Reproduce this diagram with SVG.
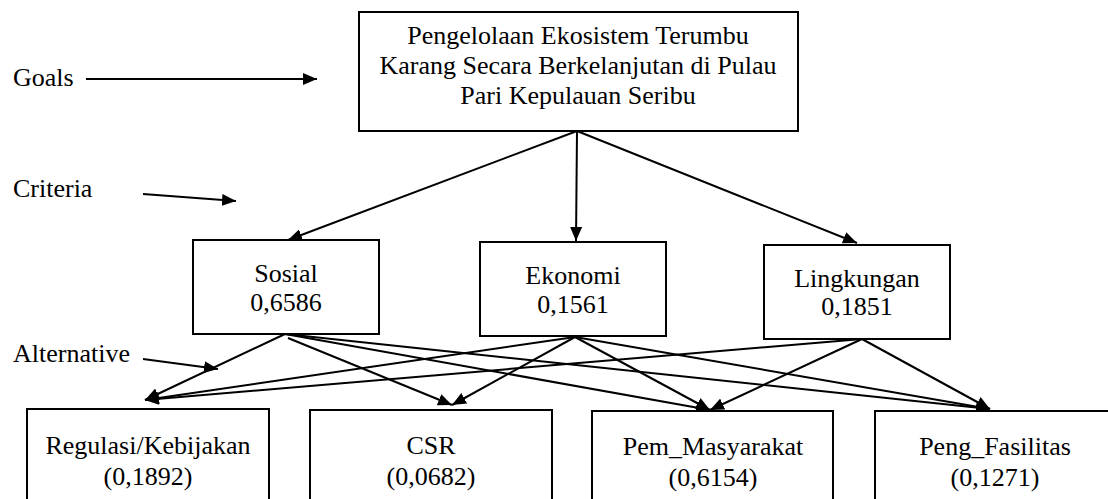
<svg xmlns="http://www.w3.org/2000/svg" width="1108" height="499" viewBox="0 0 1108 499">
<style>
.box{fill:#fff;stroke:#000;stroke-width:2}
text{font-family:'Liberation Serif','Times New Roman','DejaVu Serif',serif;font-size:26px;fill:#000}
.t{text-anchor:middle}
.c{stroke:#000;stroke-width:2;fill:none;marker-end:url(#ah)}
</style>
<defs>
<marker id="ah" markerUnits="userSpaceOnUse" markerWidth="14" markerHeight="12" refX="14" refY="6" orient="auto">
<path d="M0,0 L14,6 L0,12 z" fill="#000"/>
</marker>
</defs>
<rect width="1108" height="499" fill="#fff"/>
<g id="labels">
<text x="13" y="86">Goals</text>
<text x="13" y="197">Criteria</text>
<text x="13" y="362">Alternative</text>
</g>
<g id="connectors">
<line class="c" x1="86" y1="79" x2="317" y2="79"/>
<line class="c" x1="143" y1="194" x2="236" y2="201"/>
<line class="c" x1="143" y1="359" x2="218" y2="369"/>
<line class="c" x1="577" y1="131" x2="288" y2="240"/>
<line class="c" x1="577" y1="131" x2="576" y2="241"/>
<line class="c" x1="577" y1="131" x2="857" y2="243"/>
<line class="c" x1="285" y1="334" x2="145" y2="400"/>
<line class="c" x1="288" y1="338" x2="452" y2="405"/>
<line class="c" x1="285" y1="334" x2="710" y2="410"/>
<line class="c" x1="285" y1="334" x2="990" y2="409"/>
<line class="c" x1="575" y1="337" x2="145" y2="400"/>
<line class="c" x1="575" y1="337" x2="452" y2="405"/>
<line class="c" x1="575" y1="337" x2="710" y2="410"/>
<line class="c" x1="575" y1="337" x2="990" y2="409"/>
<line class="c" x1="862" y1="339" x2="145" y2="400"/>
<line class="c" x1="862" y1="339" x2="710" y2="410"/>
<line class="c" x1="862" y1="339" x2="990" y2="409"/>
</g>
<g id="goal">
<rect class="box" x="359" y="12" width="439" height="119"/>
<text class="t" x="578" y="44">Pengelolaan Ekosistem Terumbu</text>
<text class="t" x="578" y="74">Karang Secara Berkelanjutan di Pulau</text>
<text class="t" x="578" y="104">Pari Kepulauan Seribu</text>
</g>
<g id="sosial">
<rect class="box" x="193" y="240" width="186" height="94"/>
<text class="t" x="286" y="282">Sosial</text>
<text class="t" x="286" y="311">0,6586</text>
</g>
<g id="ekonomi">
<rect class="box" x="480" y="242" width="186" height="94"/>
<text class="t" x="573" y="284">Ekonomi</text>
<text class="t" x="573" y="313">0,1561</text>
</g>
<g id="lingkungan">
<rect class="box" x="764" y="245" width="186" height="94"/>
<text class="t" x="857" y="287">Lingkungan</text>
<text class="t" x="857" y="315">0,1851</text>
</g>
<g id="regulasi">
<rect class="box" x="27" y="409" width="242" height="110"/>
<text class="t" x="148" y="454">Regulasi/Kebijakan</text>
<text class="t" x="148" y="485">(0,1892)</text>
</g>
<g id="csr">
<rect class="box" x="310" y="410" width="242" height="110"/>
<text class="t" x="431" y="454">CSR</text>
<text class="t" x="431" y="485">(0,0682)</text>
</g>
<g id="pem">
<rect class="box" x="592" y="411" width="241" height="110"/>
<text class="t" x="713" y="455">Pem_Masyarakat</text>
<text class="t" x="713" y="486">(0,6154)</text>
</g>
<g id="peng">
<rect class="box" x="875" y="411" width="240" height="110"/>
<text class="t" x="995" y="455">Peng_Fasilitas</text>
<text class="t" x="995" y="486">(0,1271)</text>
</g>
</svg>
